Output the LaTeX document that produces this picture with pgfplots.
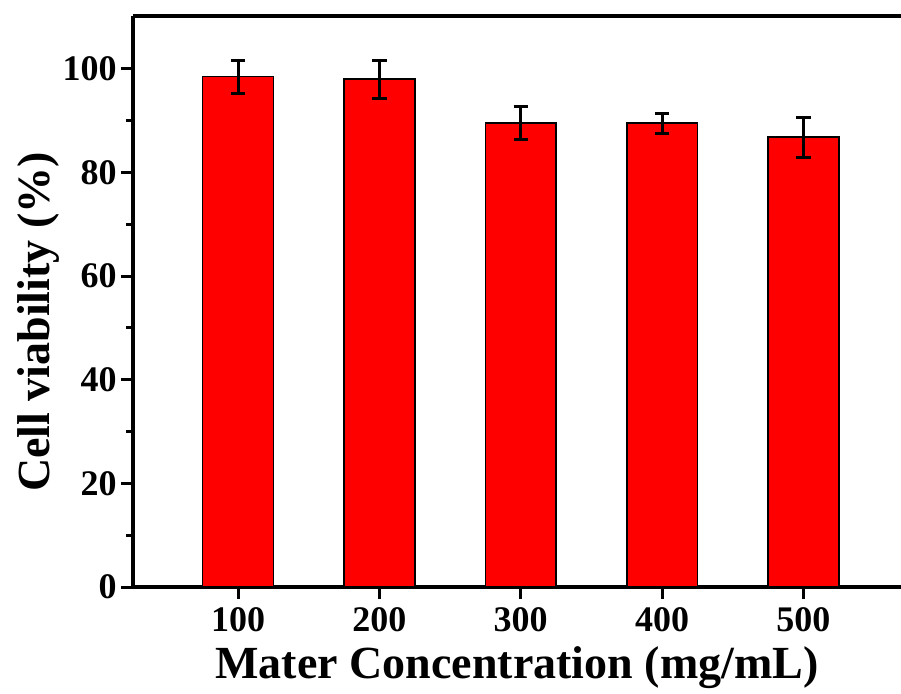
\documentclass[border=0pt]{standalone}
\usepackage{fontspec}
\setmainfont{Liberation Serif}
\usepackage{pgfplots}
\pgfplotsset{compat=1.18}

\begin{document}
\begin{tikzpicture}
\useasboundingbox (-66.5pt,-53pt) rectangle (384pt,293.5pt);
\begin{axis}[
  at={(0,0)}, anchor=south west,
  scale only axis, width=384pt, height=285.5pt,
  xmin=0.257, xmax=5.69,
  ymin=0, ymax=110.2,
  axis x line=box, axis y line=left,
  axis line style={line width=1.8pt, -},
  xtick={1,2,3,4,5},
  xticklabels={100,200,300,400,500},
  xtick pos=bottom,
  ytick={0,20,...,100},
  minor ytick={10,30,...,90},
  tick align=outside,
  major tick length=6pt, minor tick length=3.5pt,
  tick style={line width=1.5pt, black},
  /pgf/number format/assume math mode=true,
  ticklabel style={font=\fontsize{18}{18}\selectfont\bfseries},
  yticklabel style={inner sep=2pt},
  xticklabel style={inner sep=4pt},
]
\addplot[ybar, bar width=0.5, fill=red, draw=black, line width=0.8pt,
  error bars/.cd, y dir=both, y explicit,
  error bar style={line width=1.5pt, black},
  error mark options={rotate=90, mark size=3.6pt, line width=1.5pt, black}]
  table[x=x, y=y, y error=e] {
x y e
1 98.5 3.2
2 98.0 3.7
3 89.6 3.2
4 89.5 1.9
5 86.8 3.9
};
\end{axis}
\node[rotate=90, anchor=base, font=\fontsize{23}{23}\selectfont\bfseries] at (-41.5pt,132.5pt) {Cell viability (\%)};
\node[anchor=base, font=\fontsize{23}{23}\selectfont\bfseries] at (192pt,-45.5pt) {Mater Concentration (mg/mL)};
\end{tikzpicture}
\end{document}
